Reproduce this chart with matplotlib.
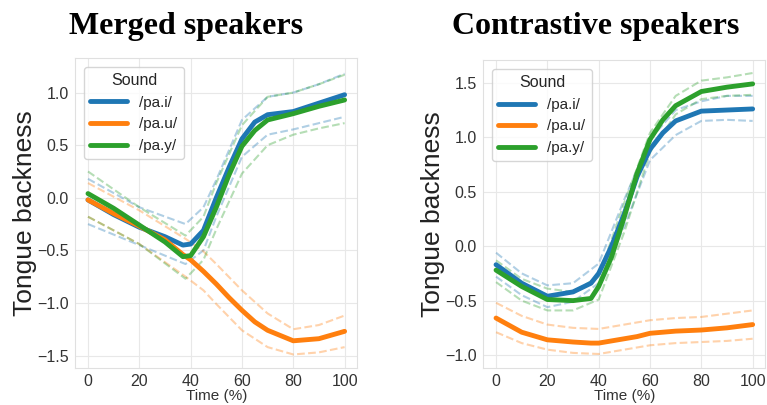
import matplotlib
matplotlib.use("Agg")
import matplotlib.pyplot as plt
import seaborn as sns

sns.set_style("whitegrid")
plt.rcParams['font.family'] = ['Liberation Sans', 'DejaVu Sans']

sounds = ["/pa.i/", "/pa.u/", "/pa.y/"]
colors = ["#1f77b4", "#ff7f0e", "#2ca02c"]

# merged speakers
merged_x = [0, 10, 20, 30, 37, 40, 45, 50, 55, 60, 65, 70, 80, 90, 100]
merged_i = [-0.02, -0.16, -0.28, -0.37, -0.45, -0.44, -0.31, 0.0, 0.29, 0.56, 0.72, 0.79, 0.82, 0.90, 0.98]
merged_u = [-0.02, -0.15, -0.27, -0.40, -0.54, -0.59, -0.70, -0.82, -0.95, -1.07, -1.18, -1.26, -1.36, -1.34, -1.27]
merged_y = [0.04, -0.10, -0.26, -0.42, -0.56, -0.55, -0.37, -0.09, 0.22, 0.49, 0.64, 0.74, 0.80, 0.87, 0.93]

merged_band_x = [0, 20, 38, 45, 50, 60, 70, 80, 90, 100]
merged_i_hi = [0.18, -0.09, -0.25, -0.09, 0.17, 0.74, 0.96, 1.00, 1.08, 1.18]
merged_i_lo = [-0.25, -0.45, -0.63, -0.50, -0.18, 0.39, 0.60, 0.65, 0.71, 0.77]
merged_u_hi = [0.14, -0.12, -0.39, -0.51, -0.63, -0.88, -1.10, -1.25, -1.21, -1.12]
merged_u_lo = [-0.18, -0.44, -0.75, -0.88, -1.01, -1.26, -1.42, -1.49, -1.47, -1.42]
merged_y_hi = [0.25, -0.09, -0.36, -0.18, 0.14, 0.69, 0.96, 1.00, 1.08, 1.17]
merged_y_lo = [-0.18, -0.44, -0.77, -0.59, -0.30, 0.23, 0.50, 0.60, 0.66, 0.71]

# contrastive speakers
contr_x = [0, 10, 20, 30, 37, 40, 45, 50, 55, 60, 65, 70, 80, 90, 100]
contr_i = [-0.17, -0.34, -0.46, -0.42, -0.34, -0.25, 0.0, 0.30, 0.64, 0.89, 1.04, 1.15, 1.24, 1.25, 1.26]
contr_u = [-0.66, -0.79, -0.86, -0.88, -0.89, -0.89, -0.87, -0.85, -0.83, -0.80, -0.79, -0.78, -0.77, -0.75, -0.72]
contr_y = [-0.22, -0.37, -0.49, -0.50, -0.48, -0.37, -0.10, 0.27, 0.67, 0.98, 1.16, 1.29, 1.42, 1.46, 1.49]

contr_band_x = [0, 10, 20, 30, 40, 50, 60, 70, 80, 90, 100]
contr_i_hi = [-0.06, -0.25, -0.36, -0.34, -0.16, 0.43, 0.98, 1.25, 1.33, 1.38, 1.38]
contr_i_lo = [-0.28, -0.45, -0.56, -0.51, -0.34, 0.18, 0.79, 1.02, 1.15, 1.16, 1.15]
contr_u_hi = [-0.52, -0.64, -0.72, -0.75, -0.76, -0.72, -0.68, -0.66, -0.65, -0.62, -0.59]
contr_u_lo = [-0.79, -0.89, -0.95, -0.98, -0.99, -0.95, -0.91, -0.89, -0.88, -0.87, -0.85]
contr_y_hi = [-0.13, -0.30, -0.39, -0.42, -0.28, 0.40, 1.04, 1.38, 1.52, 1.55, 1.59]
contr_y_lo = [-0.33, -0.50, -0.59, -0.59, -0.49, 0.13, 0.86, 1.21, 1.35, 1.38, 1.39]

fig = plt.figure(figsize=(7.67, 4.05), dpi=100)
ax1 = fig.add_axes([0.098, 0.091, 0.368, 0.766])
ax2 = fig.add_axes([0.630, 0.091, 0.368, 0.761])

panels = [
    (ax1, merged_x, [merged_i, merged_u, merged_y], merged_band_x,
     [(merged_i_hi, merged_i_lo), (merged_u_hi, merged_u_lo), (merged_y_hi, merged_y_lo)],
     (-1.62, 1.33), [-1.5, -1.0, -0.5, 0.0, 0.5, 1.0]),
    (ax2, contr_x, [contr_i, contr_u, contr_y], contr_band_x,
     [(contr_i_hi, contr_i_lo), (contr_u_hi, contr_u_lo), (contr_y_hi, contr_y_lo)],
     (-1.12, 1.71), [-1.0, -0.5, 0.0, 0.5, 1.0, 1.5]),
]

for ax, x, means, bx, bands, ylim, yticks in panels:
    for c, (hi, lo) in zip(colors, bands):
        ax.plot(bx, hi, '--', color=c, alpha=0.35, lw=1.5)
        ax.plot(bx, lo, '--', color=c, alpha=0.35, lw=1.5)
    for m, c, lab in zip(means, colors, sounds):
        ax.plot(x, m, '-', color=c, lw=3.5, label=lab)
    ax.set_xlim(-5, 105)
    ax.set_ylim(*ylim)
    ax.set_yticks(yticks)
    ax.set_xticks([0, 20, 40, 60, 80, 100])
    ax.tick_params(labelsize=11.5, colors='#333333', pad=1)
    ax.set_xlabel("Time (%)", fontsize=11, color='#333333', labelpad=0)
    ax.set_ylabel("Tongue backness", fontsize=19, color='#222222', labelpad=0)
    ax.legend(title="Sound", loc='upper left', fontsize=11, title_fontsize=11.5,
              frameon=True, handlelength=2.4, borderaxespad=0.6)
    ax.grid(color='#e8e8e8')
    for s in ax.spines.values():
        s.set_color('#e0e0e0')

fig.text(0.243, 0.935, "Merged speakers", fontsize=23, fontweight='bold',
         family='Liberation Serif', color='black', ha='center', va='center')
fig.text(0.776, 0.935, "Contrastive speakers", fontsize=23, fontweight='bold',
         family='Liberation Serif', color='black', ha='center', va='center')

fig.savefig("out.png", dpi=100)
